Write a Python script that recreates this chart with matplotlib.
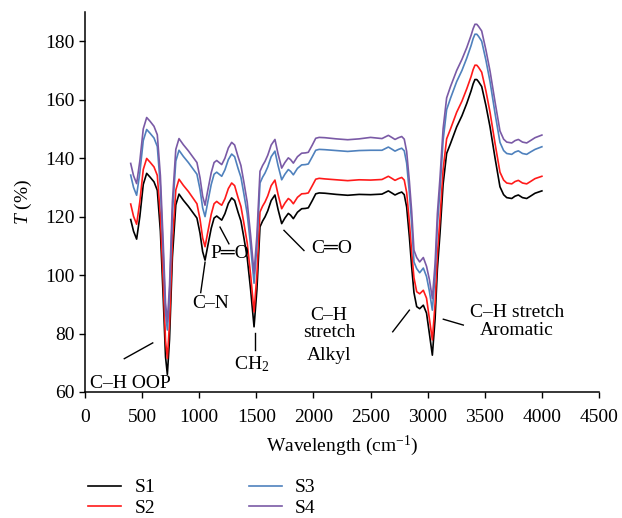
import matplotlib
matplotlib.use("Agg")
import matplotlib.pyplot as plt

plt.rcParams['font.family'] = ['Liberation Serif', 'DejaVu Serif']
plt.rcParams['mathtext.fontset'] = 'custom'
plt.rcParams['mathtext.rm'] = 'Liberation Serif'
plt.rcParams['mathtext.it'] = 'Liberation Serif:italic'

wavenumber = [400, 425, 452, 480, 510, 540, 570, 604, 633, 660, 685, 705, 721, 740, 765, 795,
              823, 861, 905, 948, 980, 1007, 1030, 1051, 1075, 1105, 1130, 1153, 1175, 1197,
              1225, 1255, 1284, 1310, 1340, 1365, 1390, 1420, 1450, 1480, 1505, 1532, 1555,
              1576, 1600, 1630, 1663, 1690, 1722, 1750, 1780, 1800, 1824, 1860, 1897, 1930,
              1955, 1990, 2020, 2050, 2100, 2200, 2300, 2400, 2500, 2600, 2656, 2690, 2714,
              2745, 2773, 2795, 2816, 2840, 2860, 2880, 2904, 2930, 2962, 2990, 3015, 3041,
              3065, 3085, 3108, 3135, 3166, 3200, 3254, 3300, 3342, 3380, 3398, 3414, 3430, 3445, 3473,
              3510, 3546, 3590, 3633, 3665, 3692, 3736, 3765, 3794, 3830, 3867, 3900, 3940, 4000]

s1 = [119.0, 115.0, 112.3, 120.0, 131.0, 134.8, 133.5, 131.9, 129.0, 115.0, 92.0, 72.0, 66.0, 78.0, 106.0, 124.0,
      127.7, 125.6, 123.5, 121.2, 119.5, 114.3, 108.0, 105.1, 110.0, 116.0, 119.5, 120.2, 119.5, 118.8,
      121.0, 124.5, 126.4, 125.5, 121.5, 118.5, 113.0, 106.0, 95.0, 82.3, 95.0, 116.5, 118.5,
      119.9, 122.0, 125.5, 127.4, 122.5, 117.6, 119.5, 121.1, 120.5, 119.3, 121.5, 122.7, 122.8,
      123.0, 125.5, 127.8, 128.1, 128.0, 127.6, 127.3, 127.6, 127.5, 127.7, 128.8, 128.0, 127.4,
      128.0, 128.4, 127.5, 123.3, 113.0, 102.8, 94.0, 89.2, 88.5, 89.7, 87.0, 80.0, 72.6,
      85.0, 102.0, 114.3, 131.0, 141.6, 145.0, 150.7, 154.5, 158.7, 163.0, 165.4, 166.9, 166.9, 166.2, 164.5,
      158.0, 150.7, 140.0, 130.2, 127.5, 126.5, 126.2, 127.0, 127.4, 126.5, 126.2, 127.0, 128.0, 128.8]

s2 = [124.3, 120.1, 117.4, 125.1, 136.1, 139.9, 138.6, 137.0, 134.1, 120.3, 97.5, 77.5, 71.5, 83.5, 111.2, 129.1,
      132.8, 130.7, 128.6, 126.2, 124.4, 119.1, 112.7, 109.7, 114.7, 120.8, 124.4, 125.2, 124.5, 123.9,
      126.1, 129.6, 131.5, 130.6, 126.5, 123.5, 118.0, 111.0, 100.1, 87.4, 100.1, 121.6, 123.6,
      125.0, 127.1, 130.6, 132.5, 127.6, 122.7, 124.6, 126.2, 125.6, 124.4, 126.6, 127.8, 127.9,
      128.1, 130.6, 132.8, 133.1, 132.9, 132.6, 132.3, 132.6, 132.5, 132.7, 133.8, 133.0, 132.4,
      133.0, 133.4, 132.5, 128.3, 118.0, 107.8, 99.1, 94.3, 93.6, 94.8, 92.1, 85.1, 77.8,
      90.2, 107.1, 119.4, 136.0, 146.6, 150.0, 155.7, 159.5, 163.7, 167.9, 170.3, 171.8, 171.8, 171.1, 169.4,
      163.0, 155.7, 145.0, 135.2, 132.5, 131.5, 131.2, 132.0, 132.4, 131.5, 131.2, 132.0, 133.0, 133.8]

s3 = [134.2, 130.0, 127.3, 135.0, 146.0, 149.8, 148.5, 146.9, 144.0, 130.2, 107.3, 87.2, 81.2, 93.2, 121.0, 139.0,
      142.7, 140.6, 138.5, 136.2, 134.5, 129.3, 123.0, 120.0, 125.0, 131.0, 134.5, 135.2, 134.5, 133.8,
      136.0, 139.5, 141.4, 140.5, 136.5, 133.5, 128.0, 121.0, 110.0, 97.2, 110.0, 131.5, 133.5,
      134.9, 137.0, 140.5, 142.4, 137.5, 132.6, 134.5, 136.1, 135.5, 134.3, 136.5, 137.7, 137.8,
      138.0, 140.5, 142.7, 143.0, 142.9, 142.6, 142.3, 142.6, 142.7, 142.7, 143.8, 143.0, 142.4,
      143.0, 143.4, 142.5, 138.3, 128.0, 117.8, 104.5, 102.2, 100.8, 102.4, 99.5, 94.5, 88.0,
      100.0, 117.0, 129.3, 146.0, 156.6, 160.5, 166.2, 170.0, 174.2, 178.5, 180.9, 182.4, 182.4, 181.7, 180.0,
      173.5, 166.2, 155.3, 145.4, 142.6, 141.6, 141.3, 142.1, 142.5, 141.6, 141.3, 142.1, 143.0, 143.9]

s4 = [138.2, 134.0, 131.3, 139.0, 150.0, 153.9, 152.6, 150.9, 148.0, 134.0, 110.8, 90.4, 84.0, 96.5, 125.0, 143.0,
      146.7, 144.6, 142.5, 140.2, 138.5, 133.3, 127.0, 123.9, 129.0, 135.0, 138.5, 139.2, 138.5, 137.8,
      140.0, 143.5, 145.4, 144.5, 140.5, 137.5, 132.0, 125.0, 113.6, 100.6, 113.6, 135.5, 137.5,
      138.9, 141.0, 144.5, 146.4, 141.5, 136.6, 138.5, 140.1, 139.5, 138.3, 140.5, 141.7, 141.8,
      142.0, 144.5, 146.8, 147.1, 147.0, 146.6, 146.3, 146.6, 147.1, 146.7, 147.8, 147.0, 146.4,
      147.0, 147.4, 146.5, 142.3, 132.0, 121.8, 108.5, 106.0, 104.5, 106.0, 103.0, 98.5, 92.0,
      104.0, 121.0, 133.3, 150.0, 160.6, 164.5, 170.0, 173.8, 177.8, 182.0, 184.3, 185.8, 185.8, 185.1, 183.5,
      177.0, 169.8, 159.2, 149.3, 146.5, 145.5, 145.2, 146.0, 146.4, 145.5, 145.2, 146.0, 147.0, 147.9]

series_names = ['S1', 'S2', 'S3', 'S4']
series_colors = ['#000000', '#ff1a1a', '#4f81bd', '#7a5aa6']
x_ticks = [0, 500, 1000, 1500, 2000, 2500, 3000, 3500, 4000, 4500]
y_ticks = [60, 80, 100, 120, 140, 160, 180]

fig = plt.figure(figsize=(6.22, 5.18), dpi=100)
ax = fig.add_axes([85/622, 1 - 392/518, 514/622, 380/518])

for ys, name, c in zip([s1, s2, s3, s4], series_names, series_colors):
    ax.plot(wavenumber, ys, color=c, lw=1.2, label=name, solid_joinstyle='round')

ax.set_xlim(0, 4500)
ax.set_ylim(60, 190)
ax.set_xticks(x_ticks)
ax.set_yticks(y_ticks)
ax.tick_params(direction='out', length=4, width=1, labelsize=14, colors='black')
ax.tick_params(axis='x', pad=8)
for s in ['top', 'right']:
    ax.spines[s].set_visible(False)
for s in ['left', 'bottom']:
    ax.spines[s].set_linewidth(1.1)

ax.set_xlabel('Wavelength (cm$^{-1}$)', fontsize=14, labelpad=6)
ax.set_ylabel('$T$ (%)', fontsize=14, labelpad=8)

fs = 14
ax.text(44, 63.0, 'C–H OOP', fontsize=fs, ha='left', va='center')
ax.plot([344, 593], [71.4, 76.8], color='black', lw=1)
ax.text(1103, 90.3, 'C–N', fontsize=fs, ha='center', va='center')
ax.plot([1051, 1013], [104.4, 94.0], color='black', lw=1)
ax.text(1270, 107.5, 'P═O', fontsize=fs, ha='center', va='center')
ax.plot([1182, 1260], [116.4, 110.7], color='black', lw=1)
ax.text(1458, 69.5, 'CH$_2$', fontsize=fs, ha='center', va='center')
ax.plot([1488, 1488], [80.2, 74.5], color='black', lw=1)
ax.text(2160, 109.2, 'C═O', fontsize=fs, ha='center', va='center')
ax.plot([1742, 1917], [115.3, 108.4], color='black', lw=1)
ax.text(2136, 86.2, 'C–H', fontsize=fs, ha='center', va='center')
ax.text(2136, 80.3, 'stretch', fontsize=fs, ha='center', va='center')
ax.text(2136, 72.6, 'Alkyl', fontsize=fs, ha='center', va='center')
ax.plot([2694, 2840], [80.6, 88.0], color='black', lw=1)
ax.text(3782, 87.2, 'C–H stretch', fontsize=fs, ha='center', va='center')
ax.text(3782, 81.2, 'Aromatic', fontsize=fs, ha='center', va='center')
ax.plot([3137, 3312], [84.9, 82.9], color='black', lw=1)

fig.legend(loc='upper left', bbox_to_anchor=(80/622, 1 - 471/518), ncol=2, frameon=False,
           fontsize=14, handlelength=1.7, handletextpad=0.7, columnspacing=4.8,
           labelspacing=0.15, borderaxespad=0)

fig.savefig('out.png', dpi=100)
